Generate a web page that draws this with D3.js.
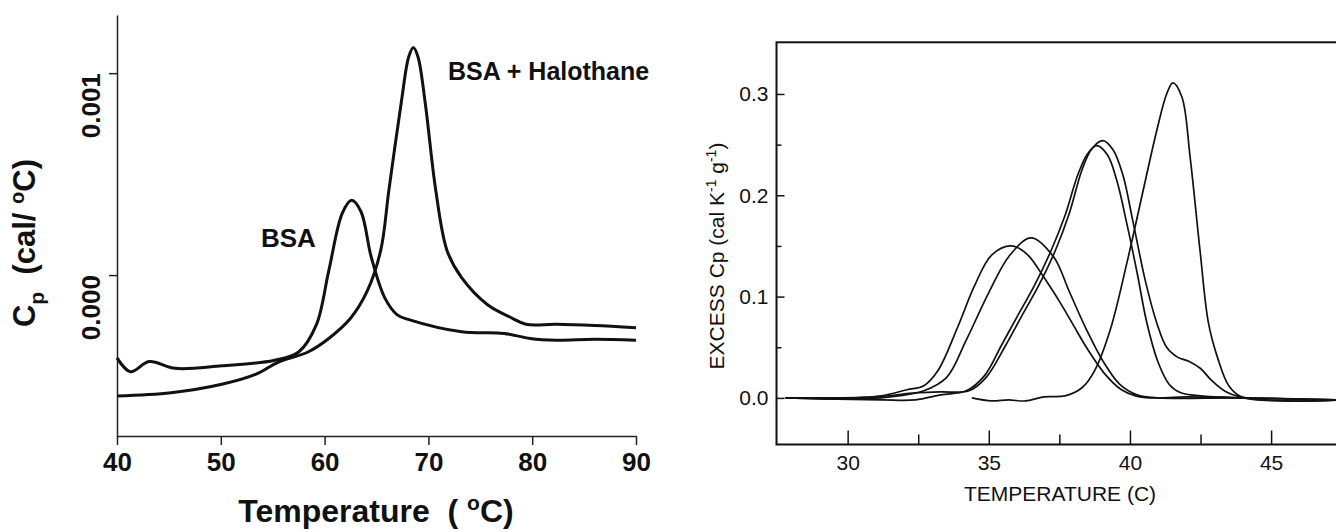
<!DOCTYPE html>
<html>
<head>
<meta charset="utf-8">
<script src="https://cdn.jsdelivr.net/npm/d3@7"></script>
<style>
  body { margin: 0; background: #fff; }
  svg { display: block; font-family: "Liberation Sans", Arial, sans-serif; }
</style>
</head>
<body>
<div id="chart"></div>
<script>
// ---- data ----
// left panel: BSA and BSA + halothane scans
const LEFT_X_TICKS = [40, 50, 60, 70, 80, 90];
const LEFT_Y_TICKS = [0, 0.001];
const LEFT_Y_LABELS = ["0.000", "0.001"];

const bsaTemp = [40, 41.3, 43.1, 45.6, 50.1, 55.1, 57.5, 59.2, 60.4, 61.7, 62.6, 63.5, 64.5, 65.8, 67.0, 68.2, 73.2, 77.3, 79.8, 82.3, 86, 90];
const bsaCp = [-0.00041, -0.000479, -0.000428, -0.000462, -0.000449, -0.000423, -0.000381, -0.000247, 0.000021, 0.000306, 0.00037, 0.000315, 0.000088, -0.000113, -0.000197, -0.000222, -0.000281, -0.000289, -0.000314, -0.000323, -0.000318, -0.000323];

const haloTemp = [40, 45.2, 50.1, 53.4, 55.5, 58.4, 60.4, 62.5, 64.1, 65.4, 66.2, 67.4, 68.1, 68.55, 69.0, 69.7, 70.7, 71.8, 73.2, 75.7, 78.1, 79.4, 82.3, 86, 90];
const haloCp = [-0.000599, -0.000583, -0.000541, -0.000491, -0.000432, -0.000381, -0.000314, -0.000214, -0.00008, 0.000121, 0.000423, 0.00086, 0.00108, 0.001127, 0.00108, 0.00085, 0.000423, 0.000121, -0.000013, -0.000147, -0.000214, -0.000244, -0.000244, -0.00025, -0.000261];

// right panel: five excess Cp scans
const RIGHT_X_TICKS = [30, 35, 40, 45];
const RIGHT_X_MINOR = [32.5, 37.5, 42.5];
const RIGHT_Y_TICKS = [0, 0.1, 0.2, 0.3];
const RIGHT_Y_MINOR = [0.05, 0.15, 0.25];

const scanATemp = [27.8, 30.2, 31.2, 32.1, 32.7, 33.2, 33.9, 34.5, 35.1, 35.8, 36.35, 36.95, 37.55, 37.95, 38.5, 39.1, 39.7, 40.2, 40.7, 42, 44, 47.4];
const scanACp = [0, 0, 0.002, 0.008, 0.012, 0.027, 0.070, 0.111, 0.141, 0.150, 0.142, 0.119, 0.093, 0.074, 0.048, 0.024, 0.008, 0.002, 0, 0.001, 0, -0.002];

const scanBTemp = [27.8, 30.5, 31.8, 32.7, 33.5, 34.2, 35.0, 35.75, 36.5, 37.3, 37.85, 38.45, 39.05, 39.65, 40.25, 41, 44, 47.4];
const scanBCp = [0, -0.001, 0.002, 0.007, 0.020, 0.057, 0.104, 0.141, 0.158, 0.139, 0.105, 0.068, 0.036, 0.013, 0.003, 0, 0, -0.002];

const scanCTemp = [27.8, 31.2, 32.4, 33.3, 34.2, 34.85, 35.45, 36.0, 36.6, 37.2, 37.7, 38.15, 38.5, 38.82, 39.2, 39.53, 39.89, 40.25, 40.6, 41.0, 41.4, 41.8, 42.5, 44, 47.4];
const scanCCp = [0, -0.002, -0.002, 0.003, 0.007, 0.022, 0.052, 0.080, 0.110, 0.145, 0.180, 0.220, 0.241, 0.249, 0.24, 0.215, 0.172, 0.124, 0.074, 0.035, 0.013, 0.005, 0.002, 0, -0.002];

const scanDTemp = [27.8, 31.0, 32.4, 33.3, 34.3, 34.9, 35.6, 36.15, 36.75, 37.35, 37.85, 38.3, 38.65, 39.04, 39.4, 39.75, 40.1, 40.55, 40.95, 41.3, 41.7, 42.1, 42.5, 42.9, 43.4, 43.9, 45.5, 47.4];
const scanDCp = [0, 0.001, 0.005, 0.006, 0.007, 0.020, 0.052, 0.080, 0.110, 0.145, 0.182, 0.225, 0.246, 0.254, 0.245, 0.22, 0.175, 0.115, 0.074, 0.05, 0.04, 0.036, 0.029, 0.017, 0.006, 0.001, -0.003, -0.002];

const scanETemp = [34.4, 35.1, 35.7, 36.3, 36.95, 37.7, 38.3, 38.75, 39.3, 39.89, 40.47, 40.95, 41.3, 41.52, 41.84, 42.13, 42.48, 42.78, 43.1, 43.5, 43.95, 45.5, 47.4];
const scanECp = [0, -0.003, -0.002, -0.003, 0.001, 0.002, 0.010, 0.027, 0.067, 0.133, 0.205, 0.264, 0.300, 0.311, 0.297, 0.238, 0.146, 0.074, 0.040, 0.012, 0.001, -0.003, -0.002];

// ---- frame ----
const FRAME_WIDTH = 1336;
const FRAME_HEIGHT = 532;

const FRAME = d3.select("#chart")
                .append("svg")
                  .attr("width", FRAME_WIDTH)
                  .attr("height", FRAME_HEIGHT);

// ---- left panel ----
const X_SCALE1 = d3.scaleLinear().domain([40, 90]).range([117, 636]);
const Y_SCALE1 = d3.scaleLinear().domain([-0.000797, 0.001288]).range([436, 15]);

const xAxis1 = FRAME.append("g")
    .attr("transform", "translate(0,436)")
    .call(d3.axisBottom(X_SCALE1)
      .tickValues(LEFT_X_TICKS)
      .tickSize(9)
      .tickSizeOuter(0)
      .tickPadding(8)
      .tickFormat(d3.format("d")));
xAxis1.selectAll("path, line").attr("stroke", "#222").attr("stroke-width", 1.5);
xAxis1.selectAll("text")
    .attr("font-size", "26px")
    .attr("font-weight", "bold")
    .attr("fill", "#111")
    .attr("font-family", "Liberation Sans, Arial, sans-serif");

const yAxis1 = FRAME.append("g")
    .attr("transform", "translate(117,0)")
    .call(d3.axisLeft(Y_SCALE1)
      .tickValues(LEFT_Y_TICKS)
      .tickSize(8)
      .tickSizeOuter(0)
      .tickFormat(""));
yAxis1.selectAll("path, line").attr("stroke", "#222").attr("stroke-width", 1.5);

// rotated tick labels
FRAME.selectAll(".ylab1")
    .data(LEFT_Y_TICKS)
    .enter()
    .append("text")
      .attr("class", "ylab1")
      .attr("transform", (d) => "translate(100," + Y_SCALE1(d) + ") rotate(-90)")
      .attr("text-anchor", "end")
      .attr("font-size", "26px")
      .attr("font-weight", "bold")
      .attr("fill", "#111")
      .text((d, i) => LEFT_Y_LABELS[i]);

// axis titles
const yTitle1 = FRAME.append("text")
    .attr("transform", "translate(35,243) rotate(-90)")
    .attr("text-anchor", "middle")
    .attr("font-size", "31px")
    .attr("font-weight", "bold")
    .attr("fill", "#111")
    .style("white-space", "pre");
yTitle1.append("tspan").text("C");
yTitle1.append("tspan").attr("font-size", "21px").attr("dy", 9).text("p");
yTitle1.append("tspan").attr("dy", -9).text("  (cal/ ");
yTitle1.append("tspan").attr("font-size", "20px").attr("dy", -11).text("o");
yTitle1.append("tspan").attr("dy", 11).text("C)");

const xTitle1 = FRAME.append("text")
    .attr("x", 376)
    .attr("y", 522)
    .attr("text-anchor", "middle")
    .attr("font-size", "32px")
    .attr("font-weight", "bold")
    .attr("fill", "#111")
    .style("white-space", "pre");
xTitle1.append("tspan").text("Temperature  ( ");
xTitle1.append("tspan").attr("font-size", "21px").attr("dy", -12).text("o");
xTitle1.append("tspan").attr("dy", 12).text("C)");

// curves
const line1 = d3.line()
    .x((d) => X_SCALE1(d[0]))
    .y((d) => Y_SCALE1(d[1]))
    .curve(d3.curveCatmullRom.alpha(0.5));

FRAME.append("path")
    .datum(d3.zip(bsaTemp, bsaCp))
    .attr("d", line1)
    .attr("fill", "none")
    .attr("stroke", "#111")
    .attr("stroke-width", 3);

FRAME.append("path")
    .datum(d3.zip(haloTemp, haloCp))
    .attr("d", line1)
    .attr("fill", "none")
    .attr("stroke", "#111")
    .attr("stroke-width", 3);

// curve labels
FRAME.append("text")
    .attr("x", 261).attr("y", 247)
    .attr("font-size", "26px").attr("font-weight", "bold").attr("fill", "#111")
    .text("BSA");
FRAME.append("text")
    .attr("x", 448).attr("y", 80)
    .attr("font-size", "25px").attr("font-weight", "bold").attr("fill", "#111")
    .text("BSA + Halothane");

// ---- right panel ----
const X_SCALE2 = d3.scaleLinear().domain([27.48, 48]).range([776.5, 1355.8]);
const Y_SCALE2 = d3.scaleLinear().domain([-0.046, 0.351]).range([444.5, 42.3]);

FRAME.append("rect")
    .attr("x", X_SCALE2(27.48))
    .attr("y", Y_SCALE2(0.351))
    .attr("width", X_SCALE2(48) - X_SCALE2(27.48))
    .attr("height", Y_SCALE2(-0.046) - Y_SCALE2(0.351))
    .attr("fill", "none")
    .attr("stroke", "#111")
    .attr("stroke-width", 2);

// major and minor x ticks (inward)
const xAxis2 = FRAME.append("g")
    .attr("transform", "translate(0," + Y_SCALE2(-0.046) + ")")
    .call(d3.axisBottom(X_SCALE2)
      .tickValues(RIGHT_X_TICKS)
      .tickSize(-14)
      .tickSizeOuter(0)
      .tickPadding(11)
      .tickFormat(d3.format("d")));
xAxis2.select(".domain").remove();
xAxis2.selectAll("line").attr("stroke", "#111").attr("stroke-width", 1.5);
xAxis2.selectAll("text").attr("font-size", "21px").attr("fill", "#111")
    .attr("font-family", "Liberation Sans, Arial, sans-serif");

const xMinor2 = FRAME.append("g")
    .attr("transform", "translate(0," + Y_SCALE2(-0.046) + ")")
    .call(d3.axisBottom(X_SCALE2).tickValues(RIGHT_X_MINOR).tickSize(-10).tickFormat(""));
xMinor2.select(".domain").remove();
xMinor2.selectAll("line").attr("stroke", "#111").attr("stroke-width", 1.5);

// major and minor y ticks (inward)
const yAxis2 = FRAME.append("g")
    .attr("transform", "translate(" + X_SCALE2(27.48) + ",0)")
    .call(d3.axisLeft(Y_SCALE2)
      .tickValues(RIGHT_Y_TICKS)
      .tickSize(-8)
      .tickSizeOuter(0)
      .tickPadding(8)
      .tickFormat(d3.format(".1f")));
yAxis2.select(".domain").remove();
yAxis2.selectAll("line").attr("stroke", "#111").attr("stroke-width", 1.5);
yAxis2.selectAll("text").attr("font-size", "21px").attr("fill", "#111")
    .attr("font-family", "Liberation Sans, Arial, sans-serif");

const yMinor2 = FRAME.append("g")
    .attr("transform", "translate(" + X_SCALE2(27.48) + ",0)")
    .call(d3.axisLeft(Y_SCALE2).tickValues(RIGHT_Y_MINOR).tickSize(-5).tickFormat(""));
yMinor2.select(".domain").remove();
yMinor2.selectAll("line").attr("stroke", "#111").attr("stroke-width", 1.5);

// titles
FRAME.append("text")
    .attr("x", 1060).attr("y", 501)
    .attr("text-anchor", "middle")
    .attr("font-size", "21px").attr("fill", "#111")
    .text("TEMPERATURE (C)");

const yTitle2 = FRAME.append("text")
    .attr("transform", "translate(724,256) rotate(-90)")
    .attr("text-anchor", "middle")
    .attr("font-size", "21px")
    .attr("fill", "#111");
yTitle2.append("tspan").text("EXCESS Cp (cal K");
yTitle2.append("tspan").attr("font-size", "14px").attr("dy", -8).text("-1");
yTitle2.append("tspan").attr("dy", 8).text(" g");
yTitle2.append("tspan").attr("font-size", "14px").attr("dy", -8).text("-1");
yTitle2.append("tspan").attr("dy", 8).text(")");

// scans
const line2 = d3.line()
    .x((d) => X_SCALE2(d[0]))
    .y((d) => Y_SCALE2(d[1]))
    .curve(d3.curveCatmullRom.alpha(0.5));

const scans = [
  d3.zip(scanATemp, scanACp),
  d3.zip(scanBTemp, scanBCp),
  d3.zip(scanCTemp, scanCCp),
  d3.zip(scanDTemp, scanDCp),
  d3.zip(scanETemp, scanECp)
];

FRAME.selectAll(".scan")
    .data(scans)
    .enter()
    .append("path")
      .attr("class", "scan")
      .attr("d", line2)
      .attr("fill", "none")
      .attr("stroke", "#111")
      .attr("stroke-width", 1.7);
</script>
</body>
</html>
